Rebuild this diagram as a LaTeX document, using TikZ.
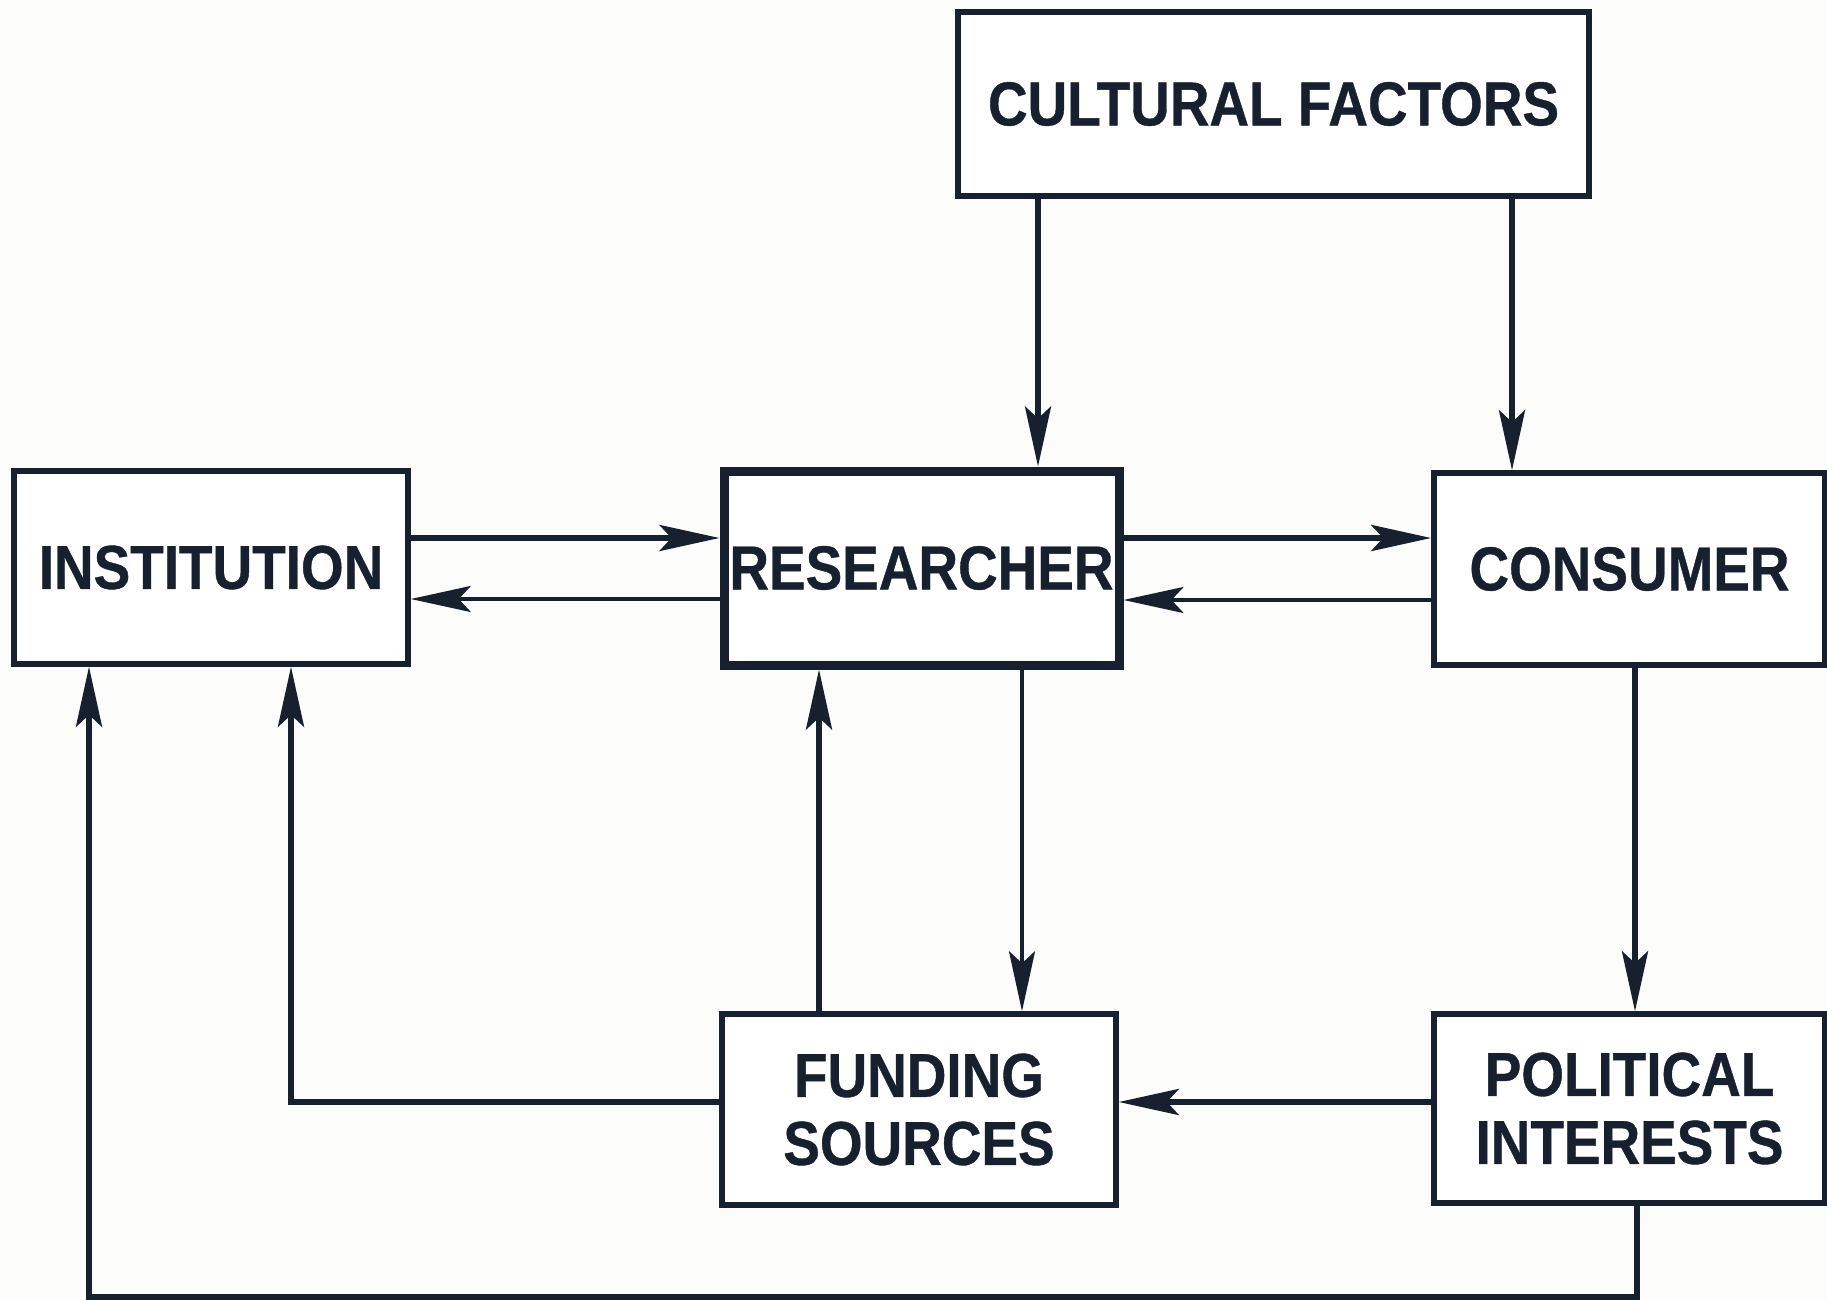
\documentclass[tikz,border=0pt]{standalone}
\usepackage{fontspec}
\setmainfont{Liberation Sans}[FakeStretch=0.885, FakeBold=0.6]
\usetikzlibrary{arrows.meta}
\definecolor{ink}{HTML}{16202E}
\definecolor{paper}{HTML}{FCFCFA}
\begin{document}
\begin{tikzpicture}[x=1pt,y=-1pt,
  box/.style={draw=ink, line width=5.5pt, fill=white, text=ink,
    font=\fontsize{62}{72}\selectfont\bfseries, align=center, inner sep=0pt},
  arr/.style={draw=ink, line width=5.5pt,
    -{Stealth[length=60pt,width=26pt,inset=12pt]}},
  thin/.style={line width=3.5pt}]
  \fill[paper] (0,0) rectangle (1827,1300);
  \useasboundingbox (0,0) rectangle (1827,1300);

  % boxes
  \node[box, minimum width=631pt, minimum height=184pt] (cult) at (1273.5,104) {CULTURAL FACTORS};
  \node[box, minimum width=394pt, minimum height=193pt] (inst) at (211,567.5) {INSTITUTION};
  \node[box, line width=9pt, minimum width=395pt, minimum height=194pt] (res) at (921.5,568) {RESEARCHER};
  \node[box, minimum width=391pt, minimum height=192pt] (cons) at (1629.5,569) {CONSUMER};
  \node[box, minimum width=394pt, minimum height=191pt] (fund) at (919,1109.5) {FUNDING\\[-4pt]SOURCES};
  \node[box, minimum width=391pt, minimum height=189pt] (pol) at (1629.5,1108.5) {POLITICAL\\[-4pt]INTERESTS};

  % turning points of the long return lines
  \coordinate (fundL) at (291,1102);
  \coordinate (polB) at (1637,1297);
  \coordinate (instB) at (89,1297);

  % cultural factors down to researcher and consumer
  \draw[arr] (cult.south -| 1038,0) -- (res.north -| 1038,0);
  \draw[arr] (cult.south -| 1512,0) -- (cons.north -| 1512,0);

  % institution <-> researcher
  \draw[arr] (inst.east |- 0,538) -- (res.west |- 0,538);
  \draw[arr, thin] (res.west |- 0,599) -- (inst.east |- 0,599);

  % researcher <-> consumer
  \draw[arr, line width=6.5pt] (res.east |- 0,538) -- (cons.west |- 0,538);
  \draw[arr, thin] (cons.west |- 0,600) -- (res.east |- 0,600);

  % researcher <-> funding sources
  \draw[arr, thin] (res.south -| 1022,0) -- (fund.north -| 1022,0);
  \draw[arr] (fund.north -| 819,0) -- (res.south -| 819,0);

  % consumer -> political interests -> funding sources
  \draw[arr] (cons.south -| 1635,0) -- (pol.north -| 1635,0);
  \draw[arr] (pol.west |- 0,1102) -- (fund.east |- 0,1102);

  % funding sources back to institution
  \draw[arr] (fund.west |- fundL) -- (fundL) -- (inst.south -| fundL);

  % political interests back to institution along the bottom
  \draw[arr] (pol.south -| polB) -- (polB) -- (instB) -- (inst.south -| instB);
\end{tikzpicture}
\end{document}
